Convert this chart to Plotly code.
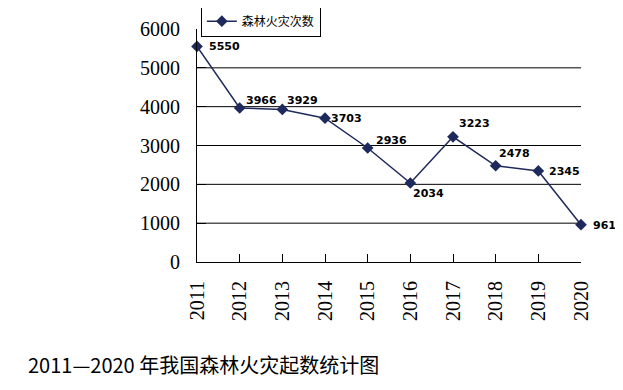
import plotly.graph_objects as go

years = [2011, 2012, 2013, 2014, 2015, 2016, 2017, 2018, 2019, 2020]
fires = [5550, 3966, 3929, 3703, 2936, 2034, 3223, 2478, 2345, 961]
series_name = "森林火灾次数"
y_ticks = [0, 1000, 2000, 3000, 4000, 5000, 6000]
grid_vals = [1000, 2000, 3000, 4000, 5000]
caption = "2011—2020 年我国森林火灾起数统计图"

# label offsets (pixels): xshift, yshift
label_dx = [10, 4, 3, 4, 6, 1, 4, 1, 9, 10]
label_dy = [0, 7, 9, 0, 7, -10, 13, 12, -1, -1]

navy = "#1f2a5c"

fig = go.Figure()
fig.add_trace(go.Scatter(
    x=years, y=fires, name=series_name, mode="lines+markers",
    line=dict(color=navy, width=1.5),
    marker=dict(symbol="diamond", size=9, color=navy),
    cliponaxis=False, showlegend=True,
))

annotations = []
for x, y, dx, dy in zip(years, fires, label_dx, label_dy):
    annotations.append(dict(
        x=x, y=y, xref="x", yref="y", text=str(y), showarrow=False,
        xanchor="left", yanchor="middle", xshift=dx, yshift=dy,
        font=dict(family="DejaVu Sans", size=11, color="black", weight="bold"),
    ))
annotations.append(dict(
    x=-0.445, y=-0.442, xref="paper", yref="paper", text=caption,
    showarrow=False, xanchor="left", yanchor="middle",
    font=dict(family="Noto Sans CJK SC", size=20, color="black"),
))

shapes = [dict(type="line", xref="paper", yref="y", x0=0, x1=1, y0=g, y1=g,
               line=dict(color="black", width=1), layer="below") for g in grid_vals]

fig.update_layout(
    width=623, height=390,
    margin=dict(l=189, r=50, t=21, b=136, autoexpand=False),
    paper_bgcolor="white", plot_bgcolor="white",
    showlegend=True,
    legend=dict(x=0.01, y=1.1, xanchor="left", yanchor="top",
                bordercolor="black", borderwidth=1, bgcolor="rgba(255,255,255,0)",
                font=dict(family="Noto Sans CJK SC", size=12, color="black"),
                itemwidth=30, tracegroupgap=0),
    xaxis=dict(range=[2011, 2020], tickvals=years, ticktext=[str(y) for y in years],
               tickangle=-90, ticks="inside", ticklen=8, tickcolor="black",
               showline=True, linecolor="black", linewidth=1, showgrid=False,
               zeroline=False, ticklabelstandoff=10, automargin=False,
               tickfont=dict(family="Liberation Serif", size=20, color="black")),
    yaxis=dict(range=[0, 6000], tickvals=y_ticks, ticks="inside", ticklen=9,
               tickcolor="black", showline=True, linecolor="black", linewidth=1,
               showgrid=False, zeroline=False, ticklabelstandoff=12, automargin=False,
               tickfont=dict(family="Liberation Serif", size=20, color="black")),
    annotations=annotations, shapes=shapes,
)

fig.write_html("out.html")
